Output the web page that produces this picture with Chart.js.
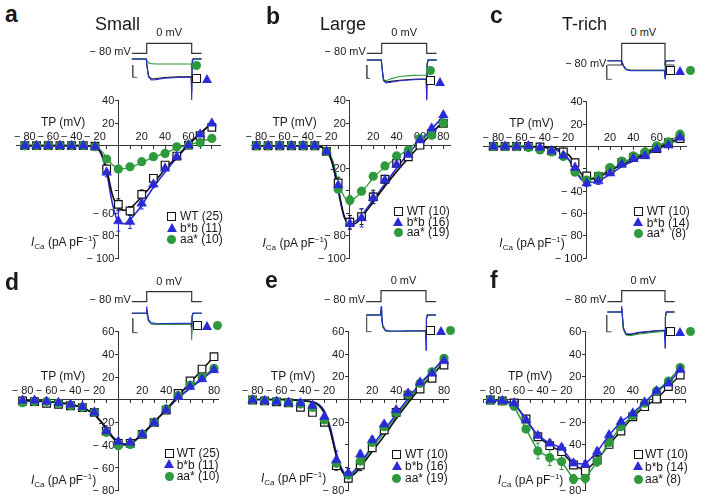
<!DOCTYPE html>
<html>
<head>
<meta charset="utf-8">
<script src="https://cdn.jsdelivr.net/npm/chart.js@4.4.1/dist/chart.umd.min.js"></script>
<style>
  body { margin: 0; background: #fff; }
  #fig { position: relative; width: 701px; height: 499px; overflow: hidden;
         font-family: "Liberation Sans", Arial, Helvetica, sans-serif; color: #1a1a1a; }
  #fig canvas { position: absolute; }
  .t { position: absolute; white-space: nowrap; line-height: 1; }
  .sq, .tri, .cir { position: absolute; box-sizing: border-box; }
  .sq { border: 1.3px solid #111; background: #fff; }
  .cir { border-radius: 50%; background: #2e9a3c; }
  .tri { width: 0; height: 0; }
</style>
</head>
<body>
<div id="fig"></div>
<script>
// ---------- data ----------
const tpV = [-80, -70, -60, -50, -40, -30, -20, -10, 0, 10, 20, 30, 40, 50, 60, 70, 80];
const fitV = [-80, -70, -60, -50, -40, -30, -25, -20, -15, -10, -5, 0, 5, 10, 15, 20, 30, 40, 50, 60, 70, 80];
const trT = [-33, -1, 0, 1.5, 4, 10, 20, 40, 70, 99, 100, 101, 103, 110, 122];
const protT = [-33, 0, 0, 100, 100, 122];
const protV = [-80, -80, 0, 0, -80, -80];

// a: Small
const aWT = [0, 0, 0, 0, 0, 0, -0.5, -20.8, -52.3, -58.2, -43.4, -29.1, -17.3, -9.3, 0.5, 8.8, 16.3];
const aBB = [0, 0, 0, 0, 0, 0, -1, -23.8, -67.1, -67.7, -51.4, -34.4, -20.2, -9.8, 0.5, 10, 19.8];
const aAA = [0, 0, 0, 0, 0, 0, -1, -11.9, -20.8, -18.8, -14.3, -9.8, -6.9, -1, 0.5, 2.6, 6.4];
const aWTerr = [1, 1, 1, 1, 1, 1, 1, 3, 5, 4, 4, 3, 2, 2, 1, 1, 2];
const aBBerr = [1, 1, 1, 1, 1, 1, 1, 4, 9, 6, 5, 3, 2, 2, 1, 1, 2];
const aAAerr = [1, 1, 1, 1, 1, 1, 1, 2, 3, 2, 2, 2, 1, 1, 1, 1, 1];
const aWTfit = [0, 0, 0, 0, 0, 0, -0.3, -1, -6, -21, -44, -55, -57.5, -56, -51, -45.5, -33.6, -20.8, -9.8, 1.2, 10.9, 19.8];
const aBBfit = [0, 0, 0, 0, 0, 0, -0.3, -1, -7, -24, -52, -68, -69.5, -66, -60, -53, -37, -23.5, -11, 0.5, 10.5, 20.5];
const aAAfit = [0, 0, 0, 0, 0, 0, -0.2, -1, -4, -11, -17, -20, -20.5, -19.5, -17.5, -15, -10.5, -6.5, -2.5, 0.5, 3.5, 6.5];
const aWTtr = [0, 0, 0, -0.45, -0.8, -0.95, -0.93, -0.88, -0.85, -0.84, -1.6, -0.2, 0, 0, 0];
const aBBtr = [0, 0, 0, -0.5, -0.85, -1, -0.98, -0.92, -0.88, -0.86, -1.95, -0.25, 0, 0, 0];
const aAAtr = [0, 0, 0, -0.1, -0.18, -0.22, -0.24, -0.24, -0.24, -0.24, -0.5, -0.05, 0, 0, 0];
const aBarT = [-31, -31, -21];
const aBarI = [-0.29, -0.87, -0.87];
const aXTicks = [-80, -60, -40, -20, 20, 40, 60];
const aXText = ['\u2212 80', '\u2212 60', '\u2212 40', '\u2212 20', '20', '40', '60'];
const aYTicks = [40, 20, -60, -80, -100];
const aYText = ['40', '20', '\u2212 60', '\u2212 80', '\u2212 100'];
const aLegend = ['WT (25)', 'b*b (11)', 'aa* (10)'];

// b: Large
const bWT = [0, 0, 0, 0, 0, 0, -5, -33, -68, -63, -45.5, -29.8, -15.7, -9.8, 0.5, 10.9, 19.8];
const bBB = [0, 0, 0, 0, 0, 0, -5, -35.1, -69.2, -64.2, -46.4, -30.6, -16.7, -8, 5, 15.4, 27.2];
const bAA = [0, 0, 0, 0, 0, 0, -5, -38.6, -48.4, -40.4, -27.1, -17.9, -9.1, -3.8, 6.5, 9.4, 20.3];
const bWTerr = [1, 1, 1, 1, 1, 1, 2, 5, 6, 7, 6, 3, 2, 2, 1, 2, 2];
const bBBerr = [1, 1, 1, 1, 1, 1, 2, 5, 5, 8, 5, 3, 2, 2, 1, 2, 2];
const bAAerr = [1, 1, 1, 1, 1, 1, 1, 3, 4, 3, 2, 2, 2, 1, 1, 2, 2];
const bWTfit = [0, 0, 0, 0, 0, 0, -1, -4, -15, -38, -62, -70, -69, -64, -57, -50, -36, -23, -11, 0, 11, 22];
const bBBfit = [0, 0, 0, 0, 0, 0, -1, -4, -16, -40, -63, -69, -67, -62, -55, -48, -34, -20, -7, 4, 15, 26];
const bAAfit = [0, 0, 0, 0, 0, 0, -1, -3, -12, -32, -45, -49, -46, -41, -35, -28.5, -19, -10.5, -3, 5, 12, 20];
const bWTtr = [0, 0, 0, -0.45, -0.85, -0.96, -0.93, -0.88, -0.84, -0.82, -1.7, -0.2, 0, 0, 0];
const bBBtr = [0, 0, 0, -0.5, -0.9, -1, -0.97, -0.9, -0.86, -0.84, -1.75, -0.2, 0, 0, 0];
const bAAtr = [0, 0, 0, -0.45, -0.85, -0.9, -0.82, -0.72, -0.67, -0.65, -1.2, -0.15, 0, 0, 0];
const bBarT = [-33, -33, -26];
const bBarI = [-0.22, -0.8, -0.8];
const bXTicks = [-80, -60, -40, -20, 20, 40, 60, 80];
const bXText = ['\u2212 80', '\u2212 60', '\u2212 40', '\u2212 20', '20', '40', '60', '80'];
const bYTicks = [40, 20, -20, -80, -100];
const bYText = ['40', '20', '-20', '\u2212 80', '\u2212 100'];
const bLegend = ['WT (10)', 'b*b (16)', 'aa* (19)'];

// c: T-rich
const cWT = [0, 0, 0, 0, -0.5, -4, -5, -14.5, -26.4, -27, -21, -14.6, -10, -7, -2, 3.4, 7];
const cBB = [0, 0, 0, 0.5, -1, -4, -8, -18.9, -32.9, -30.9, -24, -16.1, -11, -8.5, -2.5, 1, 8];
const cAA = [0, 0, 0, -1, -3.2, -4.9, -9, -23, -30, -26.4, -18.9, -13.1, -8.5, -4.9, 0.6, 4, 11];
const cWTerr = [1, 1, 1, 1, 1, 1, 2, 3, 3, 3, 2, 2, 2, 2, 2, 2, 2];
const cBBerr = [1, 1, 1, 1, 1, 1, 2, 3, 3, 3, 2, 2, 2, 2, 2, 2, 2];
const cAAerr = [1, 1, 1, 1, 1, 1, 2, 3, 3, 2, 2, 2, 2, 2, 2, 2, 2];
const cWTfit = [0, 0, 0, 0, -0.3, -1, -2, -4, -8, -15, -24, -28.5, -29, -27.5, -25, -22, -16.5, -11.5, -6.5, -1.5, 3, 8];
const cBBfit = [0, 0, 0, 0, -0.5, -2, -3.5, -7, -12, -21, -29, -32, -32, -30.5, -28, -25, -18, -13, -8, -3, 2, 7];
const cAAfit = [0, 0, 0, -0.2, -0.8, -2, -4, -7, -13, -22, -27, -29, -28, -26, -23.5, -21, -15, -10, -5, 0, 5, 10];
const cWTtr = [0, 0, 0, -0.2, -0.5, -0.85, -0.95, -0.95, -0.95, -0.95, -1.6, -0.2, 0, 0, 0];
const cBBtr = [0, 0, 0, -0.2, -0.55, -0.9, -1, -1, -1, -1, -1.8, -0.2, 0, 0, 0];
const cAAtr = [0, 0, 0, -0.2, -0.5, -0.85, -0.95, -0.97, -0.97, -0.97, -1.5, -0.2, 0, 0, 0];
const cBarT = [-34.6, -34.6, -23];
const cBarI = [-0.43, -1.86, -1.86];
const cXTicks = [-80, -60, -40, -20, 20, 40, 60];
const cXText = ['\u2212 80', '\u2212 60', '\u2212 40', '\u2212 20', '20', '40', '60'];
const cYTicks = [40, 20, -40, -60, -80, -100];
const cYText = ['40', '20', '\u2212 40', '\u2212 60', '\u2212 80', '\u2212 100'];
const cLegend = ['WT (10)', 'b*b (14)', 'aa*\u00a0 (8)'];

// d
const dWT = [-1, -1.6, -3.1, -4, -5.2, -6.9, -11, -27.5, -38.3, -38.3, -30.4, -20.1, -9, 5.7, 16.6, 27.1, 38];
const dBB = [-0.5, -0.5, -1.5, -2.5, -4, -6, -11, -27.5, -36.9, -37.5, -30.4, -20.1, -9, 2.8, 11.5, 18.3, 26.3];
const dAA = [-2.5, -1.5, -1.5, -3, -5, -6.6, -11, -28.6, -40.4, -39.3, -30.4, -20.1, -8, 3.7, 13, 20.3, 27.8];
const dWTerr = [1, 1, 1, 1, 1, 1, 2, 3, 3, 3, 2, 2, 2, 2, 2, 2, 2];
const dBBerr = [1, 1, 1, 1, 1, 1, 2, 3, 3, 3, 2, 2, 2, 2, 2, 2, 2];
const dAAerr = [1, 1, 1, 1, 1, 1, 2, 3, 3, 3, 2, 2, 2, 2, 2, 2, 2];
const dWTfit = [-0.5, -1, -1.5, -2.5, -4, -7, -9.5, -13, -18.5, -25, -32, -37, -39, -38, -34.5, -30, -19.5, -8.5, 3.5, 15, 26.5, 38];
const dBBfit = [-0.5, -1, -1.5, -2.5, -4, -7, -9.5, -13, -18.5, -25.5, -33, -38, -39.5, -38.5, -35, -30.5, -20, -9, 1.5, 10, 18, 26.5];
const dAAfit = [-0.5, -1, -1.5, -2.5, -4, -7, -9.5, -13.5, -19, -26, -33.5, -38.5, -40, -39, -35.5, -31, -20, -8.5, 2.5, 11, 19.5, 28];
const dWTtr = [0, 0, 0.3, -0.2, -0.8, -1.05, -1.1, -1.1, -1.08, -1.05, -2, -0.3, 0, 0, 0];
const dBBtr = [0, 0, 0.7, 0.2, -0.6, -0.95, -1, -1.02, -1, -0.98, -1.4, -0.2, 0, 0, 0];
const dAAtr = [0, 0, 0.3, -0.2, -0.8, -1.05, -1.1, -1.12, -1.1, -1.08, -2.7, -0.4, 0, 0, 0];
const dBarT = [-31, -31, -20];
const dBarI = [-0.5, -1.94, -1.94];
const dXTicks = [-80, -60, -40, -20, 20, 40, 80];
const dXText = ['\u2212 80', '\u2212 60', '\u2212 40', '\u2212 20', '20', '40', '80'];
const dYTicks = [60, 40, 20, -20, -40, -60, -80];
const dYText = ['60', '40', '20', '-20', '\u2212 40', '\u2212 60', '\u2212 80'];
const dLegend = ['WT (25)', 'b*b (11)', 'aa* (10)'];

// e
const eWT = [-0.4, -1.2, -2, -3, -6.9, -11.4, -20.1, -58.5, -69.7, -57.9, -42.6, -27, -11.4, 3.9, 9.3, 18.7, 30.5];
const eBB = [-0.4, -1.2, -1.8, -2.7, -3.2, -5.5, -15.2, -53.5, -65, -48.5, -35.8, -21.9, -9.3, 5.4, 15.2, 23.1, 34.1];
const eAA = [0, -1, -1.5, -2.5, -4, -7, -18.1, -56.4, -66.8, -54.4, -37.9, -24, -11.4, 4.5, 14.3, 24.6, 36.5];
const eWTerr = [1, 1, 1, 1, 1, 2, 2, 4, 3, 5, 3, 2, 2, 2, 2, 2, 2];
const eBBerr = [1, 1, 1, 1, 1, 1, 2, 8, 4, 3, 3, 2, 2, 2, 2, 2, 2];
const eAAerr = [1, 1, 1, 1, 1, 1, 2, 4, 3, 3, 2, 2, 2, 2, 2, 2, 2];
const eWTfit = [0, 0, 0, 0, -1, -2.5, -5, -12, -28, -50, -64, -68, -66, -60, -53, -46, -32, -17, -3, 10, 21, 33];
const eBBfit = [0, 0, 0, 0, -0.5, -2, -4, -10, -25, -47, -62, -67, -63, -56, -49, -41, -27, -13, 1, 14, 25, 36];
const eAAfit = [0, 0, 0, 0, -0.8, -2.2, -4.5, -11, -27, -49, -63, -67.5, -64.5, -58, -51, -43, -29, -15, -1, 12, 24, 35];
const eWTtr = [0, 0, 0.3, -0.2, -0.75, -0.98, -1.02, -1.02, -1, -1, -1.5, -0.2, 0, 0, 0];
const eBBtr = [0, 0, 0.55, 0.1, -0.65, -0.95, -1, -1, -0.98, -0.98, -2.2, -0.3, 0, 0, 0];
const eAAtr = [0, 0, 0.3, -0.2, -0.75, -1, -1.03, -1.03, -1, -1, -1.5, -0.2, 0, 0, 0];
const eBarT = [-32, -32, -21];
const eBarI = [-0.1, -1.04, -1.04];
const eXTicks = [-80, -60, -40, -20, 20, 40, 80];
const eXText = ['\u2212 80', '\u2212 60', '\u2212 40', '\u2212 20', '20', '40', '80'];
const eYTicks = [60, 40, 20, -20, -80];
const eYText = ['60', '40', '20', '20', '\u2212 80'];
const eLegend = ['WT (10)', 'b*b (16)', 'aa* (19)'];

// f
const fWT = [-0.4, -1.2, -3, -17.2, -32.9, -40.8, -46.1, -57.9, -63.2, -53.5, -39.7, -27.9, -15.2, -6.3, 0.4, 11.4, 21.7];
const fBB = [-0.4, -1.2, -3.2, -18.1, -32, -38.8, -42.6, -56.4, -57.3, -46.1, -31.4, -19.6, -12.2, -2.4, 7.5, 14.3, 26.3];
const fAA = [-0.4, -1.5, -6, -26.1, -45.5, -51.4, -54.9, -70.3, -69.7, -54.9, -37.9, -24, -14.2, -3.3, 7.5, 16.3, 28.3];
const fWTerr = [1, 1, 1, 2, 3, 3, 3, 3, 4, 4, 3, 2, 2, 2, 2, 2, 2];
const fBBerr = [1, 1, 1, 2, 3, 3, 3, 3, 3, 3, 2, 2, 2, 2, 2, 2, 2];
const fAAerr = [1, 1, 2, 3, 7, 7, 7, 4, 4, 4, 3, 2, 2, 2, 2, 2, 2];
const fWTtr = [0, 0, 0.2, -0.2, -0.85, -1.12, -1.13, -1.05, -0.98, -0.93, -1.4, -0.2, 0, 0, 0];
const fBBtr = [0, 0, 0.3, -0.1, -0.8, -1.08, -1.1, -1.02, -0.95, -0.9, -1.8, -0.3, 0, 0, 0];
const fAAtr = [0, 0, 0.2, -0.2, -0.9, -1.15, -1.18, -1.1, -1.02, -0.96, -1.4, -0.2, 0, 0, 0];
const fBarT = [-34.6, -34.6, -23];
const fBarI = [-0.15, -0.99, -0.99];
const fXTicks = [-80, -60, -40, -20, 20, 40, 80];
const fXText = ['\u2212 80', '\u2212 60', '\u2212 40', '\u2212 20', '20', '40', '80'];
const fYTicks = [60, 40, 20, -20, -40, -80];
const fYText = ['60', '40', '20', '\u2212 20', '40', '\u2212 80'];
const fLegend = ['WT (10)', 'b*b (14)', 'aa* (8)'];

// ---------- styles ----------
const BLACK = '#111111';
const BLUE = '#2a2ad6';
const GREEN = '#2e9a3c';
const FONT = '"Liberation Sans", Arial, Helvetica, sans-serif';

const fig = document.getElementById('fig');

// panel layout (pixel boxes of the axes, inset placement, text spots)
const panels = [
    { letter: 'a', lx: 5, lb: 22.7, title: 'Small', tx: 95,
      ax: [16.7, 220], ay: [100.7, 258], xr: [-87, 87], yr: [-100, 40],
      d: [aWT, aBB, aAA], err: [aWTerr, aBBerr, aAAerr], fit: [aWTfit, aBBfit, aAAfit],
      xt: [aXTicks, aXText], yt: [aYTicks, aYText], legend: aLegend, leg: { mx: 171.7, tx: 180, rows: [216, 228, 239] }, icaB: 246,
      ins: { x0: 146.7, x100: 191.7, yTop: 43.3, yBase: 53.3, trBase: 59, trAmp: 21, low: 101 },
      tr: [aWTtr, aBBtr, aAAtr], bar: [aBarT, aBarI],
      syms: [['cir', 196.7, 65.7], ['sq', 196.7, 78.3], ['tri', 206.7, 79]] },
    { letter: 'b', lx: 266, lb: 24, title: 'Large', tx: 320,
      ax: [251.7, 450], ay: [100.7, 258.3], xr: [-84, 85.7], yr: [-100, 40],
      d: [bWT, bBB, bAA], err: [bWTerr, bBBerr, bAAerr], fit: [bWTfit, bBBfit, bAAfit],
      xt: [bXTicks, bXText], yt: [bYTicks, bYText], legend: bLegend, leg: { mx: 398.3, tx: 406.7, rows: [211, 222, 232] }, icaB: 247,
      ins: { x0: 381.7, x100: 426.7, yTop: 43.3, yBase: 53.3, trBase: 60, trAmp: 23, low: 101 },
      tr: [bWTtr, bBBtr, bAAtr], bar: [bBarT, bBarI],
      syms: [['cir', 430, 70.7], ['sq', 430, 80.7], ['tri', 440, 81.7]] },
    { letter: 'c', lx: 490, lb: 23.3, title: 'T-rich', tx: 562,
      ax: [483.3, 686.7], ay: [101.7, 258.3], xr: [-88.6, 85.7], yr: [-100, 40],
      d: [cWT, cBB, cAA], err: [cWTerr, cBBerr, cAAerr], fit: [cWTfit, cBBfit, cAAfit],
      xt: [cXTicks, cXText], yt: [cYTicks, cYText], legend: cLegend, leg: { mx: 638.3, tx: 646.7, rows: [211, 222.5, 233] }, icaB: 247,
      ins: { x0: 621.7, x100: 665, yTop: 43.3, yBase: 65, trBase: 60.7, trAmp: 10, low: 82 },
      tr: [cWTtr, cBBtr, cAAtr], bar: [cBarT, cBarI],
      syms: [['sq', 670.7, 70], ['tri', 680, 70.7], ['cir', 690, 70]] },
    { letter: 'd', lx: 5, lb: 290,
      ax: [18.3, 218.3], ay: [331.7, 490.7], xr: [-83.6, 83.6], yr: [-80, 60],
      d: [dWT, dBB, dAA], err: [dWTerr, dBBerr, dAAerr], fit: [dWTfit, dBBfit, dAAfit],
      xt: [dXTicks, dXText], yt: [dYTicks, dYText], legend: dLegend, leg: { mx: 169.3, tx: 176.7, rows: [453, 464.5, 476] }, icaB: 484,
      ins: { x0: 146.7, x100: 191.7, yTop: 291.7, yBase: 301.7, trBase: 313.3, trAmp: 10, low: 343 },
      tr: [dWTtr, dBBtr, dAAtr], bar: [dBarT, dBarI],
      syms: [['sq', 197.3, 325.7], ['tri', 207.3, 325.7], ['cir', 217.3, 325.7]] },
    { letter: 'e', lx: 265, lb: 288.3,
      ax: [248.3, 448.3], ay: [331.7, 490], xr: [-83.6, 83.6], yr: [-80, 60],
      d: [eWT, eBB, eAA], err: [eWTerr, eBBerr, eAAerr], fit: [eWTfit, eBBfit, eAAfit],
      xt: [eXTicks, eXText], yt: [eYTicks, eYText], legend: eLegend, leg: { mx: 396.7, tx: 405, rows: [454, 466, 478] }, icaB: 482,
      ins: { x0: 381, x100: 426, yTop: 290.7, yBase: 301.7, trBase: 315, trAmp: 16, low: 353 },
      tr: [eWTtr, eBBtr, eAAtr], bar: [eBarT, eBarI],
      syms: [['sq', 430.7, 330.7], ['tri', 440.7, 330.7], ['cir', 450.7, 330.7]] },
    { letter: 'f', lx: 490, lb: 288.3, connect: true,
      ax: [483.3, 685], ay: [331.7, 490], xr: [-86, 84], yr: [-80, 60],
      d: [fWT, fBB, fAA], err: [fWTerr, fBBerr, fAAerr], fit: null,
      xt: [fXTicks, fXText], yt: [fYTicks, fYText], legend: fLegend, leg: { mx: 638.3, tx: 645, rows: [454, 466.5, 479] }, icaB: 484,
      ins: { x0: 621.7, x100: 665, yTop: 290.7, yBase: 301.7, trBase: 312, trAmp: 20, low: 350 },
      tr: [fWTtr, fBBtr, fAAtr], bar: [fBarT, fBarI],
      syms: [['sq', 670.7, 331.7], ['tri', 680, 331.7], ['cir', 690.7, 331.7]] }
];

// ---------- plugins ----------
const errorBars = {
    id: 'errorBars',
    beforeDatasetsDraw(chart) {
        const { ctx, scales: { x, y } } = chart;
        chart.data.datasets.forEach(ds => {
            if (!ds.errors) return;
            ctx.save();
            ctx.strokeStyle = ds.borderColor;
            ctx.lineWidth = 1;
            ds.data.forEach((p, i) => {
                const e = ds.errors[i];
                if (!e) return;
                const px = x.getPixelForValue(p.x);
                const y1 = y.getPixelForValue(p.y - e), y2 = y.getPixelForValue(p.y + e);
                ctx.beginPath();
                ctx.moveTo(px, y1); ctx.lineTo(px, y2);
                ctx.moveTo(px - 2, y1); ctx.lineTo(px + 2, y1);
                ctx.moveTo(px - 2, y2); ctx.lineTo(px + 2, y2);
                ctx.stroke();
            });
            ctx.restore();
        });
    }
};

// tick labels sit above the x axis and left of the y axis, both crossing at zero
const tickText = {
    id: 'tickText',
    beforeDatasetsDraw(chart, args, opts) {
        const { ctx, scales: { x, y } } = chart;
        const x0 = x.getPixelForValue(0), y0 = y.getPixelForValue(0);
        ctx.save();
        ctx.font = '11px ' + FONT;
        ctx.fillStyle = '#1a1a1a';
        ctx.textAlign = 'center';
        ctx.textBaseline = 'alphabetic';
        opts.xVals.forEach((v, i) => ctx.fillText(opts.xText[i], x.getPixelForValue(v), y0 - 5.5));
        ctx.textAlign = 'right';
        ctx.textBaseline = 'middle';
        opts.yVals.forEach((v, i) => ctx.fillText(opts.yText[i], x0 - 4, y.getPixelForValue(v) + 0.5));
        ctx.restore();
    }
};

// ---------- helpers ----------
function addText(html, x, base, size, align, extra) {
    const d = document.createElement('div');
    d.className = 't';
    d.innerHTML = html;
    d.style.fontSize = size + 'px';
    d.style.top = (base - 0.8465 * size) + 'px';
    if (align === 'right') d.style.right = (701 - x) + 'px';
    else if (align === 'center') { d.style.left = x + 'px'; d.style.transform = 'translateX(-50%)'; }
    else d.style.left = x + 'px';
    if (extra) Object.assign(d.style, extra);
    fig.appendChild(d);
}

function addSymbol(kind, cx, cy, s) {
    const d = document.createElement('div');
    d.className = kind;
    if (kind === 'tri') {
        const h = s * 0.92;
        d.style.borderLeft = (s / 2) + 'px solid transparent';
        d.style.borderRight = (s / 2) + 'px solid transparent';
        d.style.borderBottom = h + 'px solid ' + BLUE;
        d.style.left = (cx - s / 2) + 'px';
        d.style.top = (cy - h * 0.55) + 'px';
    } else {
        d.style.width = s + 'px';
        d.style.height = s + 'px';
        d.style.left = (cx - s / 2) + 'px';
        d.style.top = (cy - s / 2) + 'px';
    }
    fig.appendChild(d);
}

function addCanvas(L, T, W, H) {
    const cv = document.createElement('canvas');
    cv.width = W; cv.height = H;
    cv.style.left = L + 'px'; cv.style.top = T + 'px';
    fig.appendChild(cv);
    return cv;
}

const pairs = (xs, ys) => xs.map((v, i) => ({ x: v, y: ys[i] }));

function mainChart(p) {
    const L = Math.max(0, Math.floor(p.ax[0]) - 16), T = Math.floor(p.ay[0]) - 12;
    const R = Math.ceil(p.ax[1]) + 8, B = Math.ceil(p.ay[1]) + 10;
    const cv = addCanvas(L, T, R - L, B - T);

    const colors = [BLACK, BLUE, GREEN];
    const datasets = [];
    if (p.fit) {
        p.fit.forEach((f, k) => datasets.push({
            data: pairs(fitV, f), showLine: true, pointRadius: 0,
            borderColor: colors[k], borderWidth: k === 2 ? 1.3 : 1.6,
            cubicInterpolationMode: 'monotone', order: 10 + k, clip: false
        }));
    }
    const line = p.connect ? { showLine: true, borderWidth: 1.5, tension: 0 } : {};
    datasets.push(Object.assign({
        data: pairs(tpV, p.d[0]), errors: p.err[0], pointStyle: 'rect', pointRadius: 5.4,
        borderColor: BLACK, backgroundColor: '#fff', pointBorderWidth: 1.2, order: 3, clip: false
    }, line));
    datasets.push(Object.assign({
        data: pairs(tpV, p.d[2]), errors: p.err[2], pointStyle: 'circle', pointRadius: 4.6,
        borderColor: GREEN, backgroundColor: GREEN, pointBorderWidth: 0, order: 2, clip: false
    }, line));
    datasets.push(Object.assign({
        data: pairs(tpV, p.d[1]), errors: p.err[1], pointStyle: 'triangle', pointRadius: 5.6,
        borderColor: BLUE, backgroundColor: BLUE, pointBorderWidth: 0.5, order: 1, clip: false
    }, line));

    const chart = new Chart(cv, {
        type: 'scatter',
        data: { datasets },
        options: {
            responsive: false, animation: false, devicePixelRatio: 1,
            layout: { padding: { left: p.ax[0] - L, right: R - p.ax[1], top: p.ay[0] - T, bottom: B - p.ay[1] } },
            plugins: {
                legend: { display: false }, tooltip: { enabled: false },
                tickText: { xVals: p.xt[0], xText: p.xt[1], yVals: p.yt[0], yText: p.yt[1] }
            },
            scales: {
                x: {
                    type: 'linear', position: { y: 0 }, min: p.xr[0], max: p.xr[1],
                    grid: { drawOnChartArea: false, drawTicks: true, tickLength: 3, color: '#333', lineWidth: 1 },
                    border: { color: '#333', width: 1 },
                    ticks: { display: false, stepSize: 10, includeBounds: false, autoSkip: false }
                },
                y: {
                    type: 'linear', position: { x: 0 }, min: p.yr[0], max: p.yr[1],
                    grid: { drawOnChartArea: false, drawTicks: true, tickLength: 3, color: '#333', lineWidth: 1 },
                    border: { color: '#333', width: 1 },
                    ticks: { display: false, stepSize: 20, includeBounds: false, autoSkip: false }
                }
            }
        },
        plugins: [errorBars, tickText]
    });
    return {
        x0: L + chart.scales.x.getPixelForValue(0),
        y0: T + chart.scales.y.getPixelForValue(0)
    };
}

function insetChart(p) {
    const s = p.ins;
    const k = (s.x100 - s.x0) / 100;          // px per ms
    const L = Math.floor(s.x0 - 38), R = Math.ceil(s.x100 + 14);
    const T = Math.floor(s.yTop - 3), B = Math.ceil(s.low + 3);
    const cv = addCanvas(L, T, R - L, B - T);
    const mv = (s.yBase - s.yTop) / 80;       // px per mV
    const colors = [BLACK, BLUE, GREEN];
    const order = [3, 1, 2];
    const datasets = [
        { data: pairs(protT, protV), yAxisID: 'yV', showLine: true, pointRadius: 0,
          borderColor: '#333', borderWidth: 1.2, order: 0 },
        { data: pairs(p.bar[0], p.bar[1]), yAxisID: 'yI', showLine: true, pointRadius: 0,
          borderColor: '#555', borderWidth: 1, order: 0 }
    ];
    p.tr.forEach((tr, i) => datasets.push({
        data: pairs(trT, tr), yAxisID: 'yI', showLine: true, pointRadius: 0,
        borderColor: colors[i], borderWidth: 1.1, order: order[i]
    }));
    new Chart(cv, {
        type: 'scatter',
        data: { datasets },
        options: {
            responsive: false, animation: false, devicePixelRatio: 1,
            layout: { padding: 0 },
            plugins: { legend: { display: false }, tooltip: { enabled: false } },
            scales: {
                x: { type: 'linear', display: false, min: (L - s.x0) / k, max: (R - s.x0) / k },
                yV: { type: 'linear', display: false, min: (s.yTop - B) / mv, max: (s.yTop - T) / mv },
                yI: { type: 'linear', display: false, min: (s.trBase - B) / s.trAmp, max: (s.trBase - T) / s.trAmp }
            }
        }
    });
    // protocol labels
    addText('0 mV', (s.x0 + s.x100) / 2, s.yTop - 6.5, 11, 'center');
    addText('\u2212 80 mV', s.x0 - 33 * k - 1, s.yBase + 2, 11, 'right');
    p.syms.forEach(([kind, x, y]) => addSymbol(kind, x, y, kind === 'tri' ? 10 : 9));
}

panels.forEach(p => {
    const o = mainChart(p);
    insetChart(p);
    addText(p.letter, p.lx, p.lb, 23, 'left', { fontWeight: 'bold' });
    if (p.title) addText(p.title, p.tx, 30.5, 18, 'left');
    addText('TP (mV)', o.x0 - 33, o.y0 - 19.5, 12, 'right');
    addText('<i>I</i><span style="font-size:8px;position:relative;top:3px">Ca</span> (pA pF<span style="font-size:8px;position:relative;top:-5px">\u22121</span>)',
        o.x0 - 22, p.icaB, 12, 'right');
    // legend
    const kinds = ['sq', 'tri', 'cir'];
    p.legend.forEach((txt, i) => {
        const y = p.leg.rows[i];
        addSymbol(kinds[i], p.leg.mx, y, kinds[i] === 'tri' ? 10 : 9);
        addText(txt, p.leg.tx, y + 4.3, 12, 'left');
    });
});
</script>
</body>
</html>
